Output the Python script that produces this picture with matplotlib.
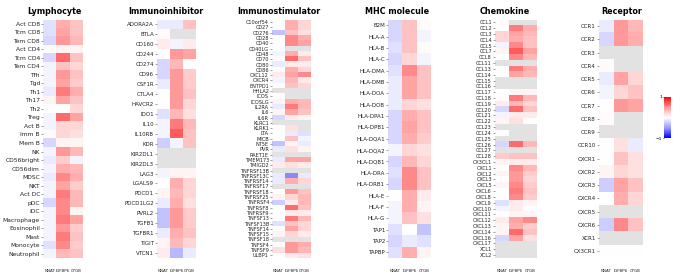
import numpy as np
import matplotlib
matplotlib.use('Agg')
import matplotlib.pyplot as plt
from matplotlib.colors import LinearSegmentedColormap

nan = np.nan
genes = ['NNAT', 'IGFBP6', 'CYGB']

lymph_rows = ['Act CD8', 'Tcm CD8', 'Tem CD8', 'Act CD4', 'Tcm CD4', 'Tem CD4',
              'Tfh', 'Tgd', 'Th1', 'Th17', 'Th2', 'Treg', 'Act B', 'Imm B',
              'Mem B', 'NK', 'CD56bright', 'CD56dim', 'MDSC', 'NKT', 'Act DC',
              'pDC', 'iDC', 'Macrophage', 'Eosinophil', 'Mast', 'Monocyte',
              'Neutrophil']
lymph_vals = [[-0.15, 0.40, 0.30], [-0.15, 0.45, 0.30], [-0.20, 0.50, 0.35],
              [0.02, 0.05, 0.05], [-0.20, 0.65, 0.30], [-0.05, 0.30, 0.20],
              [-0.05, 0.50, 0.30], [-0.05, 0.45, 0.25], [-0.10, 0.60, 0.40],
              [0.05, 0.45, 0.30], [0.00, 0.00, 0.20], [-0.05, 0.65, 0.45],
              [-0.05, 0.20, 0.20], [0.02, 0.20, 0.15], [-0.20, 0.05, 0.05],
              [-0.05, 0.50, 0.35], [-0.10, 0.25, -0.05], [-0.05, 0.40, 0.35],
              [-0.10, 0.55, 0.40], [-0.05, 0.45, 0.25], [-0.05, 0.60, 0.35],
              [-0.20, 0.55, 0.35], [-0.05, 0.55, 0.05], [-0.05, 0.60, 0.45],
              [-0.05, 0.50, 0.25], [-0.05, 0.60, 0.30], [-0.15, 0.55, 0.25],
              [-0.05, 0.35, 0.30]]

inhib_rows = ['ADORA2A', 'BTLA', 'CD160', 'CD244', 'CD274', 'CD96', 'CSF1R',
              'CTLA4', 'HAVCR2', 'IDO1', 'IL10', 'IL10RB', 'KDR', 'KIR2DL1',
              'KIR2DL3', 'LAG3', 'LGALS9', 'PDCD1', 'PDCD1LG2', 'PVRL2', 'TGFB1',
              'TGFBR1', 'TIGIT', 'VTCN1']
inhib_vals = [[-0.10, -0.10, 0.30], [0.02, nan, nan], [0.10, -0.05, 0.10],
              [0.00, 0.50, 0.45], [-0.20, 0.35, 0.00], [-0.20, 0.50, 0.25],
              [-0.10, 0.50, 0.25], [0.00, 0.50, 0.30], [0.00, 0.50, 0.20],
              [-0.15, 0.35, 0.15], [-0.05, 0.60, 0.35], [-0.05, 0.70, 0.30],
              [-0.25, -0.05, 0.30], [nan, nan, nan], [nan, nan, nan],
              [-0.05, 0.05, 0.05], [0.00, 0.40, 0.20], [0.05, 0.35, 0.20],
              [-0.10, 0.40, 0.15], [-0.30, 0.50, 0.25], [-0.30, 0.50, 0.25],
              [-0.10, 0.40, 0.30], [0.05, 0.35, 0.20], [0.10, -0.35, -0.10]]

stim_rows = ['C10orf54', 'CD27', 'CD276', 'CD28', 'CD40', 'CD40LG', 'CD48',
             'CD70', 'CD80', 'CD86', 'CXCL12', 'CXCR4', 'ENTPD1', 'HHLA2',
             'ICOS', 'ICOSLG', 'IL2RA', 'IL6', 'IL6R', 'KLRC1', 'KLRK1', 'LTA',
             'MICB', 'NT5E', 'PVR', 'RAET1E', 'TMEM173', 'TMIGD2', 'TNFRSF13B',
             'TNFRSF13C', 'TNFRSF14', 'TNFRSF17', 'TNFRSF18', 'TNFRSF25',
             'TNFRSF4', 'TNFRSF8', 'TNFRSF9', 'TNFSF13', 'TNFSF13B', 'TNFSF14',
             'TNFSF15', 'TNFSF18', 'TNFSF4', 'TNFSF9', 'ULBP1']
stim_vals = [[0.00, 0.40, 0.20], [0.00, 0.40, 0.20], [-0.30, 0.30, 0.15],
             [0.00, 0.55, 0.40], [0.00, 0.55, 0.45], [0.00, nan, nan],
             [-0.05, 0.40, 0.10], [0.00, 0.65, 0.30], [-0.10, 0.10, 0.10],
             [0.00, 0.40, 0.20], [0.10, 0.45, 0.55], [-0.05, 0.35, 0.10],
             [0.00, 0.30, 0.20], [nan, nan, nan], [0.00, nan, nan],
             [0.05, 0.40, 0.35], [-0.10, 0.60, 0.35], [0.05, 0.45, 0.30],
             [-0.20, 0.10, 0.05], [nan, nan, nan], [0.00, 0.15, nan],
             [0.00, -0.10, -0.15], [0.00, 0.30, -0.05], [-0.30, 0.05, -0.10],
             [-0.10, 0.15, 0.05], [nan, nan, nan], [-0.10, 0.45, 0.45],
             [0.10, 0.15, 0.10], [nan, nan, nan], [-0.10, -0.55, -0.10],
             [-0.10, 0.40, 0.20], [nan, nan, nan], [0.00, 0.50, 0.30],
             [0.05, 0.20, 0.35], [-0.25, 0.10, 0.35], [0.00, 0.65, 0.30],
             [0.00, 0.10, 0.10], [0.00, 0.60, 0.35], [-0.15, 0.30, 0.20],
             [0.00, 0.45, 0.20], [0.05, 0.20, 0.10], [nan, nan, nan],
             [0.00, 0.50, 0.40], [0.15, 0.50, 0.35], [0.00, 0.10, 0.15]]

mhc_rows = ['B2M', 'HLA-A', 'HLA-B', 'HLA-C', 'HLA-DMA', 'HLA-DMB', 'HLA-DOA',
            'HLA-DOB', 'HLA-DPA1', 'HLA-DPB1', 'HLA-DQA1', 'HLA-DQA2',
            'HLA-DQB1', 'HLA-DRA', 'HLA-DRB1', 'HLA-E', 'HLA-F', 'HLA-G',
            'TAP1', 'TAP2', 'TAPBP']
mhc_vals = [[-0.20, 0.30, 0.02], [-0.20, 0.30, -0.05], [-0.15, 0.30, 0.02],
            [-0.20, 0.20, -0.05], [-0.15, 0.55, 0.30], [-0.10, 0.45, 0.30],
            [-0.10, 0.45, 0.30], [-0.10, 0.20, 0.15], [-0.20, 0.40, 0.30],
            [-0.20, 0.45, 0.30], [-0.20, 0.40, 0.25], [-0.05, 0.20, 0.15],
            [-0.20, 0.35, 0.20], [-0.15, 0.55, 0.30], [-0.20, 0.55, 0.30],
            [0.00, 0.40, 0.10], [-0.05, 0.40, 0.05], [-0.05, 0.30, 0.15],
            [-0.15, 0.00, -0.30], [-0.20, -0.10, -0.15], [-0.15, 0.40, 0.05]]

chemo_rows = ['CCL1', 'CCL2', 'CCL3', 'CCL4', 'CCL5', 'CCL7', 'CCL8', 'CCL11',
              'CCL13', 'CCL14', 'CCL15', 'CCL16', 'CCL17', 'CCL18', 'CCL19',
              'CCL20', 'CCL21', 'CCL22', 'CCL23', 'CCL24', 'CCL25', 'CCL26',
              'CCL27', 'CCL28', 'CX3CL1', 'CXCL1', 'CXCL2', 'CXCL3', 'CXCL5',
              'CXCL6', 'CXCL8', 'CXCL9', 'CXCL10', 'CXCL11', 'CXCL12', 'CXCL13',
              'CXCL14', 'CXCL16', 'CXCL17', 'XCL1', 'XCL2']
chemo_vals = [[0.02, nan, nan], [0.00, 0.60, 0.40], [0.20, 0.45, 0.35],
              [0.20, 0.40, 0.30], [-0.05, 0.55, 0.30], [0.05, 0.70, 0.45],
              [0.00, 0.55, 0.35], [nan, nan, nan], [0.00, 0.60, 0.40],
              [0.00, 0.45, 0.35], [nan, nan, nan], [nan, nan, nan],
              [0.00, 0.05, 0.05], [0.00, 0.60, 0.35], [0.10, 0.35, 0.20],
              [-0.20, 0.65, 0.30], [-0.05, 0.10, 0.10], [0.05, 0.15, 0.00],
              [nan, nan, nan], [0.00, nan, nan], [nan, nan, nan],
              [-0.20, 0.65, 0.35], [nan, nan, nan], [0.25, 0.30, 0.30],
              [0.05, 0.10, 0.10], [0.00, 0.55, 0.35], [0.05, 0.50, 0.25],
              [0.00, 0.50, 0.20], [0.05, 0.55, 0.25], [0.00, 0.60, 0.30],
              [0.00, 0.55, 0.25], [-0.15, 0.10, 0.05], [-0.05, 0.10, 0.00],
              [0.00, 0.05, 0.05], [0.10, 0.45, 0.55], [0.05, 0.40, 0.25],
              [0.05, 0.65, 0.30], [-0.20, 0.45, 0.15], [nan, nan, nan],
              [nan, nan, nan], [nan, nan, nan]]

recep_rows = ['CCR1', 'CCR2', 'CCR3', 'CCR4', 'CCR5', 'CCR6', 'CCR7', 'CCR8',
              'CCR9', 'CCR10', 'CXCR1', 'CXCR2', 'CXCR3', 'CXCR4', 'CXCR5',
              'CXCR6', 'XCR1', 'CX3CR1']
recep_vals = [[-0.10, 0.50, 0.35], [-0.20, 0.50, 0.40], [nan, nan, nan],
              [0.02, nan, nan], [-0.10, 0.45, 0.20], [-0.05, 0.20, 0.30],
              [0.00, 0.50, 0.45], [0.02, nan, nan], [nan, nan, nan],
              [0.00, 0.15, -0.10], [0.00, 0.30, 0.15], [0.05, 0.20, 0.15],
              [-0.25, 0.45, 0.30], [0.00, 0.40, 0.20], [nan, nan, nan],
              [-0.25, 0.55, 0.30], [nan, nan, nan], [0.00, 0.00, 0.00]]

panels = [('Lymphocyte', lymph_rows, lymph_vals),
          ('Immunoinhibitor', inhib_rows, inhib_vals),
          ('Immunostimulator', stim_rows, stim_vals),
          ('MHC molecule', mhc_rows, mhc_vals),
          ('Chemokine', chemo_rows, chemo_vals),
          ('Receptor', recep_rows, recep_vals)]

W, H = 676, 279
# heatmap left/right edges in pixels, title centre, label size
boxes = [(43, 83, 54, 4.3), (157, 196, 166, 4.0), (272, 311, 279, 3.6),
         (388, 431, 397, 4.0), (495, 537, 505, 3.6), (599, 643, 622, 4.0)]
top_px, bot_px = 19.5, 258

# slightly softer than plain bwr
cmap = LinearSegmentedColormap.from_list(
    'soft_bwr', ['#0000ff', '#9a9aff', '#ffffff', '#ff9a9a', '#ff0000'])
cmap.set_bad('#e2e2e2')

fig = plt.figure(figsize=(W/100, H/100), dpi=100)

for (title, rows, vals), (x0, x1, tx, fs) in zip(panels, boxes):
    ax = fig.add_axes([x0/W, 1 - bot_px/H, (x1-x0)/W, (bot_px-top_px)/H])
    data = np.ma.masked_invalid(np.array(vals, dtype=float))
    im = ax.imshow(data, cmap=cmap, vmin=-1, vmax=1, aspect='auto',
                   interpolation='nearest')
    ax.set_yticks(np.arange(len(rows)))
    ax.set_yticklabels(rows, fontsize=fs, color='#222222')
    ax.set_xticks(np.arange(len(genes)))
    ax.set_xticklabels(genes, fontsize=2.9, color='#222222')
    ax.tick_params(axis='y', length=1.2, width=0.4, pad=1, color='#555555')
    ax.tick_params(axis='x', length=0, pad=8)
    for s in ax.spines.values():
        s.set_visible(False)
    fig.text(tx/W, 1 - 12/H, title, ha='center', va='center',
             fontsize=5.8, fontweight='bold')

cax = fig.add_axes([664/W, 1 - 138/H, 7/W, 41/H])
cb = fig.colorbar(im, cax=cax, ticks=[-1, 1])
cb.outline.set_visible(False)
cax.yaxis.set_ticks_position('left')
cax.tick_params(labelsize=3.2, length=1, width=0.4, pad=0.5)

fig.savefig('out.png', dpi=100)
